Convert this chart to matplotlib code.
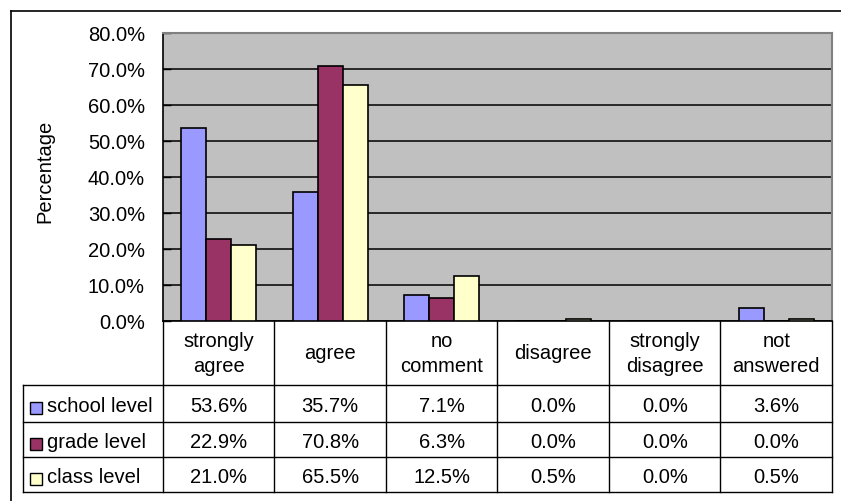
import numpy as np
import matplotlib
matplotlib.use("Agg")
import matplotlib.pyplot as plt
from matplotlib.patches import Rectangle

plt.rcParams['font.family'] = ['Liberation Sans', 'DejaVu Sans']

categories = ["strongly\nagree", "agree", "no\ncomment", "disagree", "strongly\ndisagree", "not\nanswered"]
series_names = ["school level", "grade level", "class level"]
school = [53.6, 35.7, 7.1, 0.0, 0.0, 3.6]
grade = [22.9, 70.8, 6.3, 0.0, 0.0, 0.0]
klass = [21.0, 65.5, 12.5, 0.5, 0.0, 0.5]
colors = ["#9999FF", "#993366", "#FFFFCC"]
yticks = [0, 10, 20, 30, 40, 50, 60, 70, 80]

W, H = 841, 502
fig = plt.figure(figsize=(W / 100, H / 100), dpi=100)
fs = 14.5

# plot area in pixels
px0, px1, py0, py1 = 163, 832, 34, 322
ax = fig.add_axes([px0 / W, 1 - py1 / H, (px1 - px0) / W, (py1 - py0) / H])
ax.set_facecolor("#C0C0C0")
n = len(categories)
x = np.arange(n)
w = 0.225
for j, vals in enumerate([school, grade, klass]):
    ax.bar(x + (j - 1) * w, vals, width=w, color=colors[j], edgecolor="black", linewidth=1.2, zorder=3)
ax.set_xlim(-0.5, n - 0.5)
ax.set_ylim(0, 80)
ax.set_yticks(yticks)
ax.set_yticklabels(["%.1f%%" % v for v in yticks], fontsize=fs)
ax.set_xticks([])
ax.yaxis.grid(True, color="black", linewidth=1.1)
ax.set_axisbelow(True)
ax.tick_params(axis="y", direction="in", length=6, width=1, pad=13)
for s in ["top", "right"]:
    ax.spines[s].set_color("#808080")
    ax.spines[s].set_linewidth(1.5)
ax.spines["left"].set_color("black")
ax.spines["bottom"].set_color("black")
ax.spines["left"].set_linewidth(1.2)
ax.spines["bottom"].set_linewidth(1.2)
ax.set_ylabel("Percentage", fontsize=fs)
ax.yaxis.set_label_coords(-(px0 - 54) / (px1 - px0), 1 - (171 - py0) / (py1 - py0))

# overlay in pixel coords for the data table
ov = fig.add_axes([0, 0, 1, 1], facecolor="none")
ov.set_xlim(0, W)
ov.set_ylim(H, 0)
ov.axis("off")

# outer chart border
ov.plot([11, 11], [12, H], color="black", lw=1.2)
ov.plot([11, W], [12, 12], color="black", lw=1.2)

col_w = (px1 - px0) / n
row_y = [386, 423, 458, 493]
lc = "black"
lw = 1.0
# vertical lines for category columns
for i in range(n + 1):
    xx = px0 + i * col_w
    ov.plot([xx, xx], [py1, row_y[-1]], color=lc, lw=lw)
# horizontal lines
for yy in row_y:
    ov.plot([23, px1], [yy, yy], color=lc, lw=lw)
ov.plot([23, 23], [row_y[0], row_y[-1]], color=lc, lw=lw)

for i, c in enumerate(categories):
    ov.text(px0 + (i + 0.5) * col_w, (py1 + row_y[0]) / 2, c, ha="center", va="center",
            fontsize=fs, linespacing=1.35)

for r, (name, vals) in enumerate(zip(series_names, [school, grade, klass])):
    yc = (row_y[r] + row_y[r + 1]) / 2
    ov.add_patch(Rectangle((30, yc - 2), 12, 12, facecolor=colors[r], edgecolor="black", lw=1))
    ov.text(47, yc + 2, name, ha="left", va="center", fontsize=fs)
    for i, v in enumerate(vals):
        ov.text(px0 + (i + 0.5) * col_w, yc + 2, "%.1f%%" % v, ha="center", va="center", fontsize=fs)

fig.savefig("out.png", dpi=100)
